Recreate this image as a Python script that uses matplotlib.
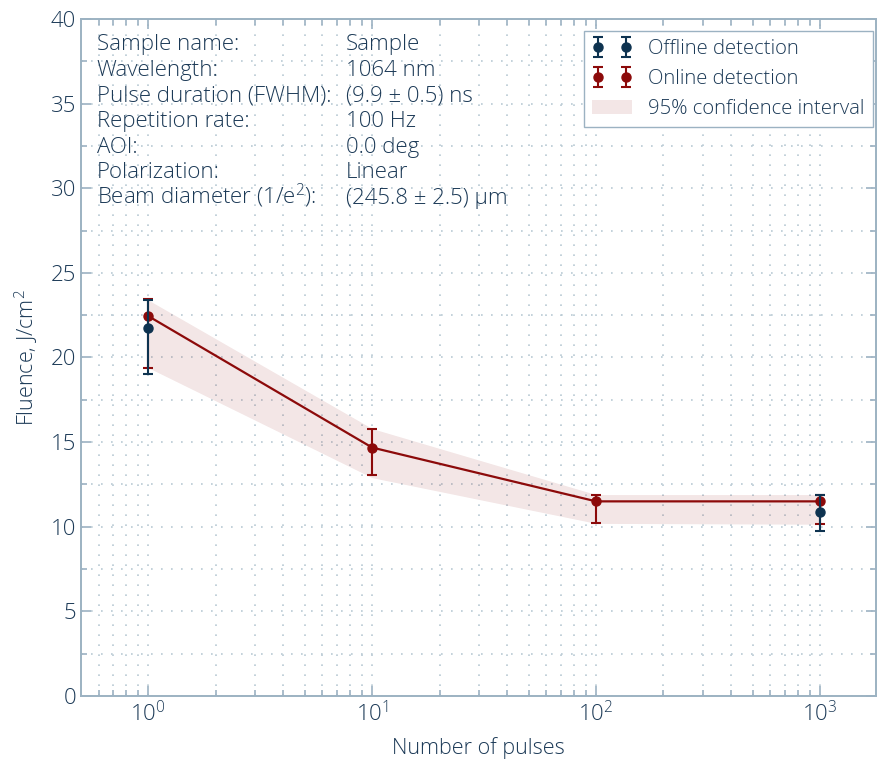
import numpy as np
import matplotlib
matplotlib.use("Agg")
import matplotlib.pyplot as plt
from matplotlib.ticker import MultipleLocator, LogLocator, NullFormatter

plt.rcParams['font.family'] = ['Open Sans', 'DejaVu Sans']
plt.rcParams['font.weight'] = 'light'
plt.rcParams['axes.labelweight'] = 'light'
plt.rcParams['mathtext.default'] = 'regular'
plt.rcParams['font.size'] = 16

# dados
pulses = [1, 10, 100, 1000]
online = [22.45, 14.68, 11.50, 11.50]
online_lo = [19.40, 13.05, 10.22, 10.18]
online_hi = [23.45, 15.75, 11.85, 11.85]

pulses_off = [1, 1000]
offline = [21.72, 10.90]
offline_lo = [19.00, 9.76]
offline_hi = [23.40, 11.87]

ci_lo = [19.40, 12.90, 10.20, 10.15]
ci_hi = [23.40, 15.80, 11.90, 11.90]

info_labels = ['Sample name:', 'Wavelength:', 'Pulse duration (FWHM):', 'Repetition rate:',
               'AOI:', 'Polarization:', 'Beam diameter (1/e$^2$):']
info_values = ['Sample', '1064 nm', '(9.9 ± 0.5) ns', '100 Hz', '0.0 deg', 'Linear',
               '(245.8 ± 2.5) µm']

navy = '#1c3a57'
spine = '#9cb2c2'
red = '#8c0a0a'
blue = '#0e3350'

fig = plt.figure(figsize=(8.77, 7.6), dpi=100)
ax = fig.add_axes([81/877, 1-696/760, (876-81)/877, (696-19)/760])

ax.fill_between(pulses, ci_lo, ci_hi, color=red, alpha=0.1, lw=0, label='95% confidence interval')
ax.plot(pulses, online, color=red, lw=1.6, zorder=3)

on = np.array(online)
err_on = [on - np.array(online_lo), np.array(online_hi) - on]
ax.errorbar(pulses, online, yerr=err_on, fmt='o', color=red, ms=6.5, capsize=3.5,
            elinewidth=1.5, capthick=1.5, label='Online detection', zorder=4)
off = np.array(offline)
err_off = [off - np.array(offline_lo), np.array(offline_hi) - off]
ax.errorbar(pulses_off, offline, yerr=err_off, fmt='o', color=blue, ms=6.5, capsize=3.5,
            elinewidth=1.5, capthick=1.5, label='Offline detection', zorder=5)

ax.set_xscale('log')
ax.set_xlim(10**-0.3, 10**3.25)
ax.set_ylim(0, 40)
ax.yaxis.set_major_locator(MultipleLocator(5))
ax.yaxis.set_minor_locator(MultipleLocator(2.5))
ax.xaxis.set_minor_locator(LogLocator(base=10, subs=np.arange(2, 10)))
ax.xaxis.set_minor_formatter(NullFormatter())

ax.grid(which='both', color='#b9cad4', linestyle=(0, (1, 5)), linewidth=1.2)
ax.set_axisbelow(True)
for s in ax.spines.values():
    s.set_color(spine)
    s.set_linewidth(1.4)
ax.tick_params(which='both', direction='in', top=True, right=True, color=spine,
               labelcolor=navy, width=1.2)
ax.tick_params(which='major', length=7, labelsize=16)
ax.tick_params(which='minor', length=4)

ax.set_xlabel('Number of pulses', color=navy, fontsize=15.5, labelpad=8)
ax.set_ylabel('Fluence, J/cm$^2$', color=navy, fontsize=15.5, labelpad=8)

for i, (lab, val) in enumerate(zip(info_labels, info_values)):
    yy = 0.954 - i*0.0378
    ax.text(0.020, yy, lab, transform=ax.transAxes, va='baseline', ha='left', color=navy)
    ax.text(0.333, yy, val, transform=ax.transAxes, va='baseline', ha='left', color=navy)

h, l = ax.get_legend_handles_labels()
order = [l.index('Offline detection'), l.index('Online detection'), l.index('95% confidence interval')]
leg = ax.legend([h[k] for k in order], [l[k] for k in order], loc='upper right', numpoints=2,
                bbox_to_anchor=((873-81)/795, (696-31)/677), borderaxespad=0,
                fancybox=False, framealpha=1, edgecolor=spine, fontsize=14.6,
                handlelength=2.0, labelspacing=0.5, borderpad=0.4, handletextpad=0.8)
for t in leg.get_texts():
    t.set_color(navy)

fig.savefig('out.png', dpi=100)
